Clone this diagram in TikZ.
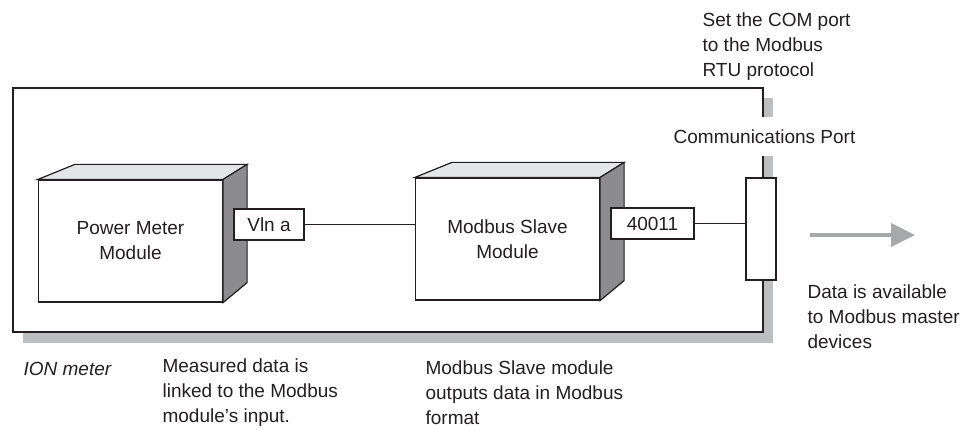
\documentclass[tikz,border=0pt]{standalone}
\usepackage{fontspec}
\setmainfont{Liberation Sans}
\usepackage{xcolor}
\usepackage{tikz}
\usetikzlibrary{arrows.meta, calc, positioning}
\definecolor{ink}{HTML}{231F20}
\definecolor{sidegray}{HTML}{8C8C8E}
\definecolor{topgray}{HTML}{E4E5E7}
\definecolor{shadowgray}{HTML}{BDBEC0}
\definecolor{arrowgray}{HTML}{A7A8AA}

\begin{document}
\begin{tikzpicture}[x=1pt, y=1pt, color=ink, line width=1.2pt,
    font=\fontsize{19}{25}\selectfont,
    module/.style={draw, fill=white, minimum width=184pt, minimum height=122pt, align=center, inner sep=0pt},
    tag/.style={draw, fill=white, minimum height=31pt, inner sep=0pt},
    note/.style={anchor=west, align=left, inner sep=0pt}]
    \useasboundingbox (0,0) rectangle (976,429);

    % ION meter frame and its shadow
    \fill[shadowgray] (23,86) rectangle (773,331);
    \draw[fill=white] (13,97) rectangle (763,341);

    % Modules
    \node[module] (pm) at (130.5,188) {Power Meter\\Module};
    \node[module] (ms) at (507.5,190) {Modbus Slave\\Module};
    \foreach \m in {pm,ms} {
        \draw[fill=topgray] (\m.north west) -- ++(37,15) -- ($(\m.north east)+(24,15)$) -- (\m.north east) -- cycle;
        \draw[fill=sidegray] (\m.north east) -- ++(24,15) -- ($(\m.south east)+(24,20)$) -- (\m.south east) -- cycle;
    }

    % Input / output tags
    \node[tag, minimum width=70pt] (vln) at (269,204.5) {Vln a};
    \node[tag, minimum width=83pt] (reg) at (652.5,205.5) {40011};

    % Communications port
    \node[draw, fill=white, minimum width=30pt, minimum height=102pt, inner sep=0pt] (port) at (761,200) {};
    \node[fill=white, inner sep=0pt, minimum height=39pt] (portlbl) at (764.5,292) {Communications Port};

    % Links
    \draw (vln.east) -- (vln.east -| ms.west);
    \draw (reg.east) -- (reg.east -| port.west);

    % Data out
    \coordinate (src) at (810,194);
    \coordinate (dst) at (915,194);
    \draw[arrowgray, line width=4pt, -{Triangle[length=24pt, width=23pt]}] (src) -- (dst);

    % Notes
    \node[note] (com) at (702,382) {Set the COM port\\to the Modbus\\RTU protocol};
    \node[note] (avail) at (807,112) {Data is available\\to Modbus master\\devices};
    \node[note, font=\fontsize{19}{25}\selectfont\itshape] (ion) at (23,60) {ION meter};
    \node[note] (meas) at (162,36) {Measured data is\\linked to the Modbus\\module's input.};
    \node[note] (out) at (425,36) {Modbus Slave module\\outputs data in Modbus\\format};
\end{tikzpicture}
\end{document}
